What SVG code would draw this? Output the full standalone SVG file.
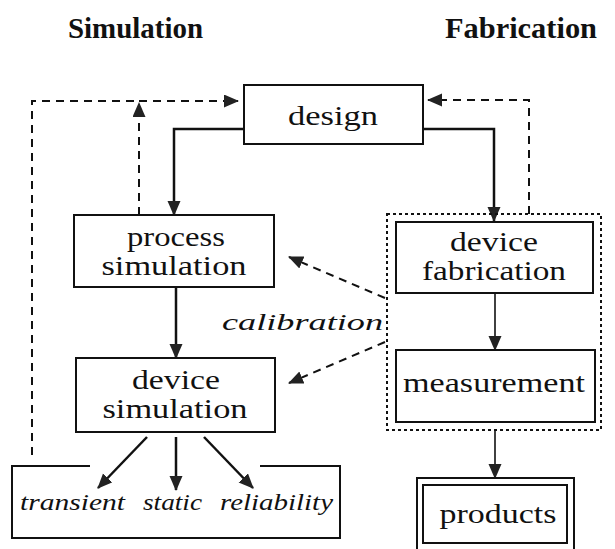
<svg xmlns="http://www.w3.org/2000/svg" width="615" height="549" viewBox="0 0 615 549">
<defs>
<marker id="ah" markerUnits="userSpaceOnUse" markerWidth="16" markerHeight="14" refX="14" refY="6.5" orient="auto">
<path d="M0,0 L15,6.5 L0,13 z" fill="#222"/>
</marker>
<style>
.box{fill:#fff;stroke:#111;stroke-width:2}
.t{font-family:"Liberation Serif","Times New Roman",serif;font-size:28px;fill:#111;text-anchor:middle}
.it{font-family:"Liberation Serif","Times New Roman",serif;font-size:24px;font-style:italic;fill:#111}
.title{font-family:"Liberation Serif","Times New Roman",serif;font-size:29px;font-weight:bold;fill:#111}
.solid{fill:none;stroke:#111;stroke-width:2.5;marker-end:url(#ah)}
.thin{fill:none;stroke:#111;stroke-width:1.6;marker-end:url(#ah)}
.dash{fill:none;stroke:#111;stroke-width:2;stroke-dasharray:8 6;marker-end:url(#ah)}
.dashn{fill:none;stroke:#111;stroke-width:2;stroke-dasharray:8 6}
.dot{fill:none;stroke:#111;stroke-width:2;stroke-dasharray:3 3}
</style>
</defs>
<rect width="615" height="549" fill="#fff"/>
<text class="title" x="68" y="38" textLength="135" lengthAdjust="spacingAndGlyphs">Simulation</text>
<text class="title" x="445" y="38" textLength="152" lengthAdjust="spacingAndGlyphs">Fabrication</text>

<g id="connectors">
<path class="dashn" d="M32,455 V101 H139"/>
<path class="dash" d="M139,101 H238"/>
<path class="dash" d="M139,215 V103"/>
<path class="dash" d="M529,214 V100 H428"/>
<path class="dash" d="M385,298 L289,257"/>
<path class="dash" d="M385,342 L289,383"/>
<path class="solid" d="M244,129 H174 V215"/>
<path class="solid" d="M423,129 H494 V221"/>
<path class="solid" d="M176,287 V358"/>
<path class="solid" d="M147,437 L98,488"/>
<path class="solid" d="M176,437 V490"/>
<path class="solid" d="M204,437 L253,488"/>
<path class="thin" d="M495,293 V350"/>
<path class="thin" d="M495,430 V478"/>
</g>

<g id="design">
<rect class="box" x="244" y="85" width="179" height="59"/>
<text class="t" x="333" y="125" textLength="90" lengthAdjust="spacingAndGlyphs">design</text>
</g>
<g id="process-simulation">
<rect class="box" x="74" y="215" width="200" height="72"/>
<text class="t" x="176" y="246" textLength="98" lengthAdjust="spacingAndGlyphs">process</text>
<text class="t" x="174" y="275" textLength="145" lengthAdjust="spacingAndGlyphs">simulation</text>
</g>
<g id="device-simulation">
<rect class="box" x="76" y="358" width="199" height="74"/>
<text class="t" x="176" y="389" textLength="88" lengthAdjust="spacingAndGlyphs">device</text>
<text class="t" x="175" y="418" textLength="145" lengthAdjust="spacingAndGlyphs">simulation</text>
</g>
<g id="fabrication-group">
<rect class="dot" x="387" y="214" width="214" height="216"/>
</g>
<g id="device-fabrication">
<rect class="box" x="396" y="222" width="197" height="71"/>
<text class="t" x="494" y="251" textLength="88" lengthAdjust="spacingAndGlyphs">device</text>
<text class="t" x="494" y="280" textLength="144" lengthAdjust="spacingAndGlyphs">fabrication</text>
</g>
<g id="measurement">
<rect class="box" x="396" y="350" width="199" height="72"/>
<text class="t" x="494" y="392" textLength="182" lengthAdjust="spacingAndGlyphs">measurement</text>
</g>
<g id="products">
<path class="box" d="M417,552 V478 H574 V552" fill="none"/>
<rect class="box" x="423" y="485" width="144" height="58"/>
<text class="t" x="498" y="523" textLength="117" lengthAdjust="spacingAndGlyphs">products</text>
</g>
<g id="outputs">
<path fill="none" stroke="#111" stroke-width="2" d="M90,466 H12 V538 H340 V466 H260"/>
<text class="it" x="20" y="510" textLength="105" lengthAdjust="spacingAndGlyphs">transient</text>
<text class="it" x="143" y="510" textLength="59" lengthAdjust="spacingAndGlyphs">static</text>
<text class="it" x="220" y="510" textLength="113" lengthAdjust="spacingAndGlyphs">reliability</text>
</g>
<g id="calibration">
<text class="it" x="222" y="330" textLength="161" lengthAdjust="spacingAndGlyphs">calibration</text>
</g>
</svg>
